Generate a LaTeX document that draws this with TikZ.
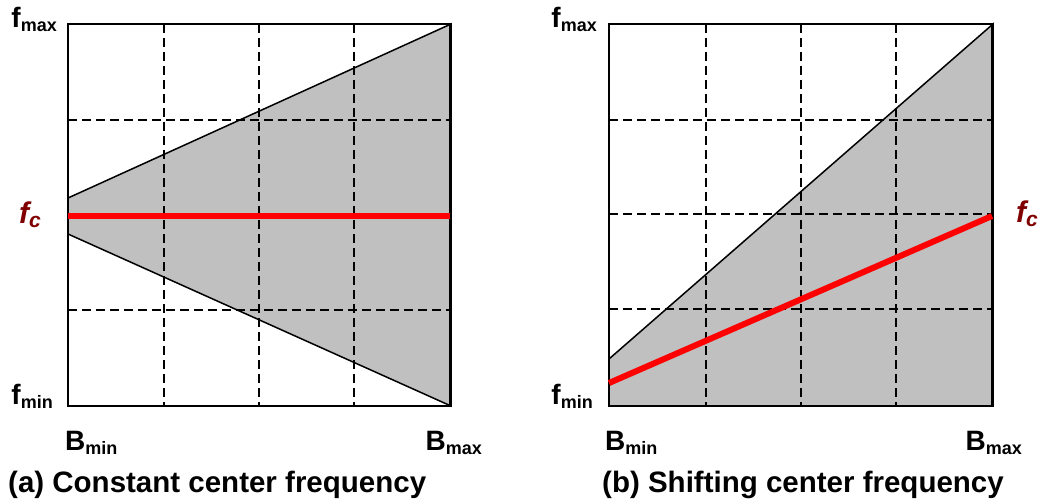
\documentclass[tikz,border=0pt]{standalone}
\usepackage{fontspec}
\setmainfont{Liberation Sans}
\usepackage{tikz}
\definecolor{bandgray}{RGB}{192,192,192}
\definecolor{fcred}{RGB}{128,0,0}
\newcommand{\sublab}[3]{#1\raisebox{-4pt}{\fontsize{#3}{#3}\selectfont #2}}

\begin{document}
\begin{tikzpicture}[x=1pt,y=-1pt,frame/.style={draw,line width=2pt},grid/.style={line width=1.8pt,dash pattern=on 9pt off 5pt},band/.style={fill=bandgray,draw,line width=1.5pt},centre/.style={red,line width=6pt},lab/.style={inner sep=0pt,font=\fontsize{28}{28}\selectfont\bfseries},fclab/.style={inner sep=0pt,text=fcred,font=\fontsize{30}{30}\selectfont\bfseries\itshape},captext/.style={inner sep=0pt,font=\fontsize{29.5}{30}\selectfont\bfseries}]
\useasboundingbox (0,0) rectangle (1040,503);
% (a) constant center frequency
\draw[band] (68,198)--(451,24)--(451,406)--(68,234)--cycle;
\draw[frame] (68,24) rectangle (450,406);
\draw[grid] (164,24)--(164,406); \draw[grid] (259,24)--(259,406); \draw[grid] (354,24)--(354,406);
\draw[grid] (68,120)--(450,120); \draw[grid] (68,310)--(450,310);
\draw[centre] (68,216)--(450,216);
\node[lab,anchor=base east] (fmaxA) at (57,28) {\sublab{f}{max}{18}};
\node[lab,anchor=base east] (fminA) at (53,404) {\sublab{f}{min}{18}};
\node[fclab,anchor=base east] (fcA) at (41,223) {\sublab{f}{c}{21}};
\node[lab,anchor=base west] (bminA) at (65,450) {\sublab{B}{min}{18}};
\node[lab,anchor=base east] (bmaxA) at (482,450) {\sublab{B}{max}{18}};
\node[captext,anchor=base west] (capA) at (8,492) {(a) Constant center frequency};
% (b) shifting center frequency
\draw[band] (609,359)--(993,24)--(993,406)--(609,406)--cycle;
\draw[frame] (609,24) rectangle (992,406);
\draw[grid] (706,24)--(706,406); \draw[grid] (801,24)--(801,406); \draw[grid] (896,24)--(896,406);
\draw[grid] (609,120)--(992,120); \draw[grid] (609,214)--(992,214); \draw[grid] (609,309)--(992,309);
\draw[centre] (609,383)--(992,216);
\node[lab,anchor=base east] (fmaxB) at (597,28) {\sublab{f}{max}{18}};
\node[lab,anchor=base east] (fminB) at (593,404) {\sublab{f}{min}{18}};
\node[fclab,anchor=base west] (fcB) at (1016,222) {\sublab{f}{c}{21}};
\node[lab,anchor=base west] (bminB) at (605,450) {\sublab{B}{min}{18}};
\node[lab,anchor=base east] (bmaxB) at (1022,450) {\sublab{B}{max}{18}};
\node[captext,anchor=base west] (capB) at (602,492) {(b) Shifting center frequency};
\end{tikzpicture}
\end{document}
